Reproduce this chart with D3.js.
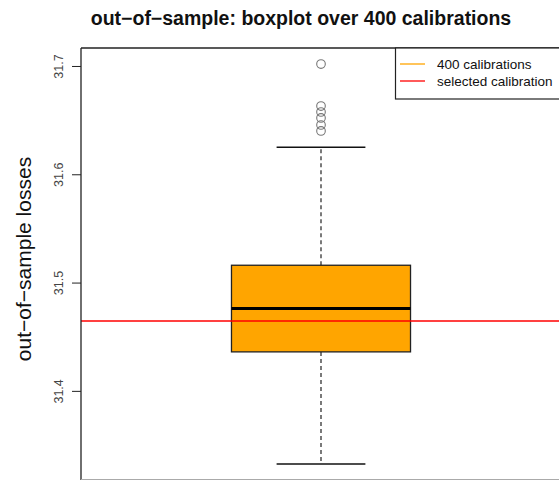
<!DOCTYPE html>
<html><head><meta charset="utf-8">
<script src="https://cdn.jsdelivr.net/npm/d3@7"></script>
<style>
body{margin:0;background:#fff;}
text{font-family:"Liberation Sans",Arial,Helvetica,sans-serif;}
</style></head>
<body>
<svg id="chart" width="559" height="480"></svg>
<script>
// data
const categories = ["400 calibrations"];
const stats = [31.3325, 31.436, 31.476, 31.516, 31.625]; // lower whisker, Q1, median, Q3, upper whisker
const outliers = [31.7018, 31.663, 31.6575, 31.652, 31.6455, 31.640];
const selected = [31.4645];
const yTicks = [31.4, 31.5, 31.6, 31.7];
const legendLabels = ["400 calibrations", "selected calibration"];
const legendColors = ["orange", "red"];

const svg = d3.select("#chart");
const L = 81, R = 561, T = 48, B = 480;
const y = d3.scaleLinear().domain([31.3177, 31.7166]).range([B, T]);
const x = d3.scaleLinear().domain([0.5, 1.5]).range([L, R]);
const boxW = 0.373, capW = 0.185;

// title
svg.append("text").attr("x", 301).attr("y", 25).attr("text-anchor", "middle")
  .style("font-size", "19.5px").style("font-weight", "bold").attr("fill", "#111")
  .text("out\u2212of\u2212sample: boxplot over 400 calibrations");

// y label
svg.append("text").attr("transform", "translate(31,259) rotate(-90)")
  .attr("text-anchor", "middle").style("font-size", "21px").attr("fill", "#111")
  .text("out\u2212of\u2212sample losses");

// axis
const axis = d3.axisLeft(y).tickValues(yTicks).tickSize(9).tickPadding(6).tickFormat(d3.format(".1f"));
const g = svg.append("g").attr("transform", `translate(${L},0)`).call(axis);
g.select(".domain").remove();
g.selectAll(".tick line").attr("stroke", "#222");
g.selectAll(".tick text").attr("transform", "translate(-22,0) rotate(-90)")
  .attr("x", 0).attr("y", 0).attr("dy", "0.35em").attr("text-anchor", "middle")
  .style("font-size", "12.5px").attr("fill", "#444");

categories.forEach((c, i) => {
  const cx = x(i + 1);
  // whiskers dashed
  svg.append("line").attr("x1", cx).attr("x2", cx).attr("y1", y(stats[3])).attr("y2", y(stats[4]))
    .attr("stroke", "#222").attr("stroke-width", 1.2).attr("stroke-dasharray", "4,3");
  svg.append("line").attr("x1", cx).attr("x2", cx).attr("y1", y(stats[1])).attr("y2", y(stats[0]))
    .attr("stroke", "#222").attr("stroke-width", 1.2).attr("stroke-dasharray", "4,3");
  // caps
  [stats[0], stats[4]].forEach(v => {
    svg.append("line").attr("x1", x(i + 1 - capW / 2)).attr("x2", x(i + 1 + capW / 2))
      .attr("y1", y(v)).attr("y2", y(v)).attr("stroke", "#111").attr("stroke-width", 1.5);
  });
  // box
  svg.append("rect").attr("x", x(i + 1 - boxW / 2)).attr("width", x(i + 1 + boxW / 2) - x(i + 1 - boxW / 2))
    .attr("y", y(stats[3])).attr("height", y(stats[1]) - y(stats[3]))
    .attr("fill", "orange").attr("stroke", "#222").attr("stroke-width", 1.3);
  // median
  svg.append("line").attr("x1", x(i + 1 - boxW / 2)).attr("x2", x(i + 1 + boxW / 2))
    .attr("y1", y(stats[2])).attr("y2", y(stats[2])).attr("stroke", "#000").attr("stroke-width", 3);
  // outliers
  svg.selectAll(null).data(outliers).enter().append("circle")
    .attr("cx", cx).attr("cy", d => y(d)).attr("r", 4.3)
    .attr("fill", "none").attr("stroke", "#777").attr("stroke-width", 1.1);
});

// selected line
svg.selectAll(null).data(selected).enter().append("line")
  .attr("x1", L).attr("x2", R).attr("y1", d => y(d)).attr("y2", d => y(d))
  .attr("stroke", "red").attr("stroke-width", 1.3);

// frame
svg.append("line").attr("x1", L).attr("x2", R).attr("y1", T).attr("y2", T).attr("stroke", "#222").attr("stroke-width", 1.3);
svg.append("line").attr("x1", L).attr("x2", L).attr("y1", T).attr("y2", B).attr("stroke", "#222").attr("stroke-width", 1.3);
svg.append("line").attr("x1", L).attr("x2", R).attr("y1", 479.5).attr("y2", 479.5).attr("stroke", "#aaa").attr("stroke-width", 1);

// legend
const lg = svg.append("g");
lg.append("rect").attr("x", 395.5).attr("y", T).attr("width", 180).attr("height", 51)
  .attr("fill", "#fff").attr("stroke", "#222").attr("stroke-width", 1.2);
legendLabels.forEach((l, i) => {
  const ly = 64 + i * 17;
  lg.append("line").attr("x1", 400).attr("x2", 425).attr("y1", ly).attr("y2", ly)
    .attr("stroke", legendColors[i]).attr("stroke-width", 1.3);
  lg.append("text").attr("x", 437).attr("y", ly).attr("dy", "0.35em")
    .style("font-size", "13.5px").attr("fill", "#111").text(l);
});
</script>
</body></html>
